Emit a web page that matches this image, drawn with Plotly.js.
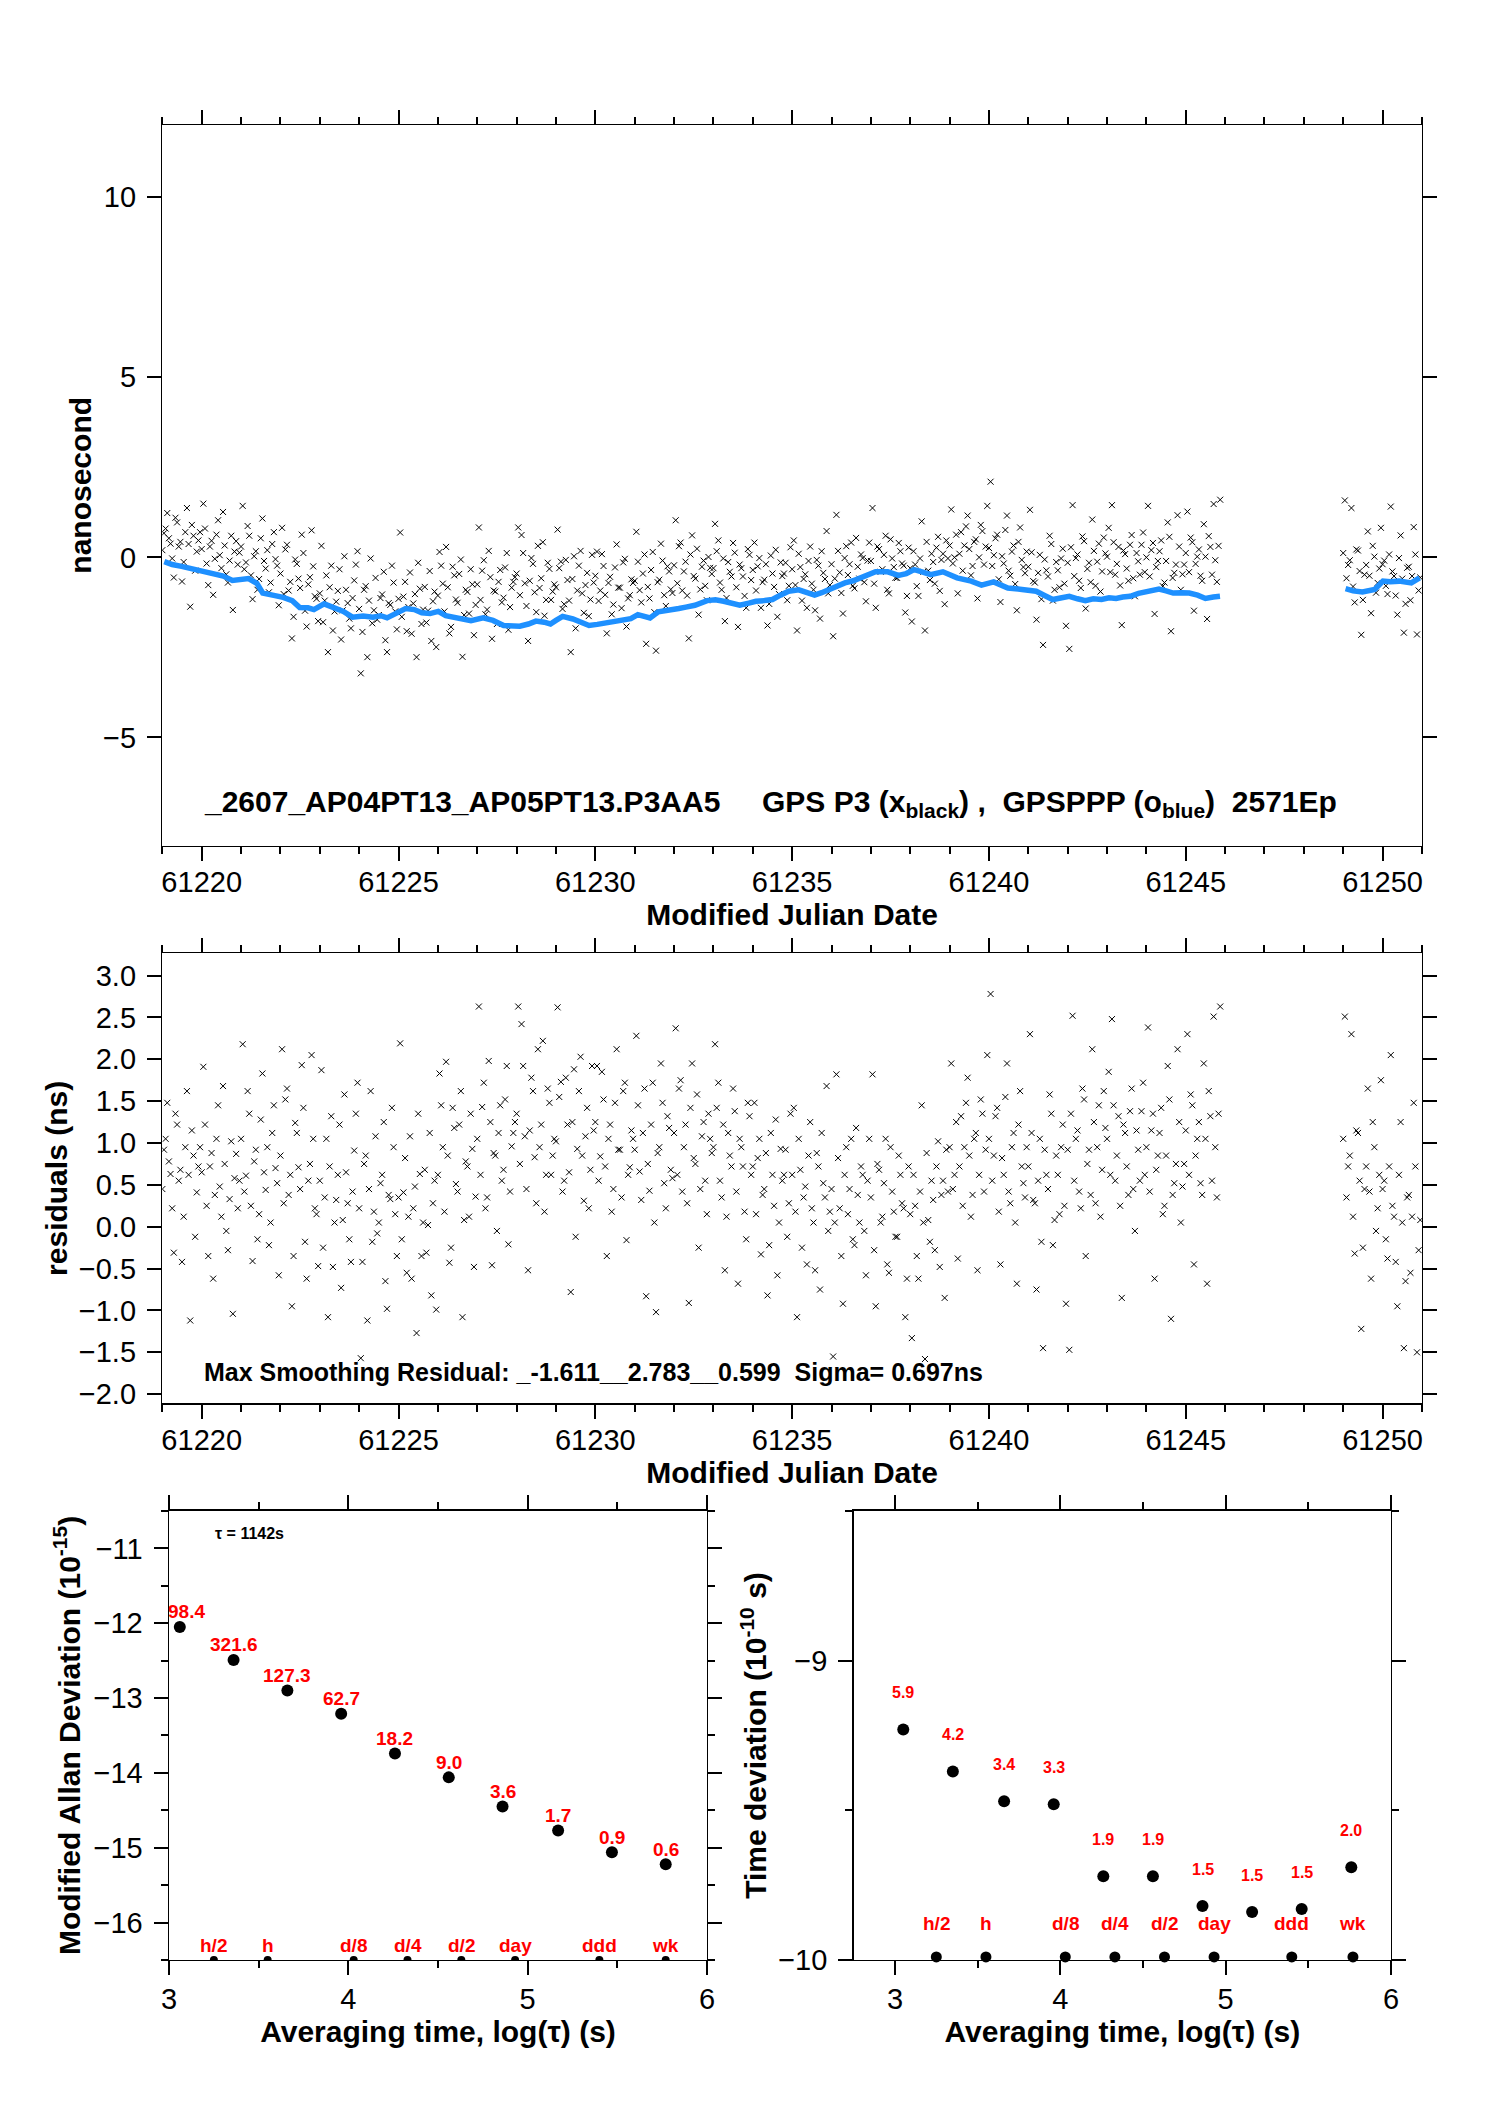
<!DOCTYPE html>
<html>
<head>
<meta charset="utf-8">
<script src="https://cdn.plot.ly/plotly-3.0.1.min.js"></script>
<style>
  body { margin: 0; background: #fff; }
  #chart { width: 1488px; height: 2105px; }
</style>
</head>
<body>
<div id="chart"></div>
<script>
// Epoch times are hours after MJD 61219.0; odd and even hours are kept in two sets
const mjdStart = 61219;
const epochHourOdd = [
  1,3,5,7,9,11,13,15,17,19,21,23,
  25,27,29,31,33,35,37,39,41,43,45,47,
  49,51,53,55,57,59,61,63,65,67,69,71,
  73,75,77,79,81,83,85,87,89,91,93,95,
  97,99,101,103,105,107,109,111,113,115,117,119,
  121,123,125,127,129,131,133,135,137,139,141,143,
  145,147,149,151,153,155,157,159,161,163,165,167,
  169,171,173,175,177,179,181,183,185,187,189,191,
  193,195,197,199,201,203,205,207,209,211,213,215,
  217,219,221,223,225,227,229,231,233,235,237,239,
  241,243,245,247,249,251,253,255,257,259,261,263,
  265,267,269,271,273,275,277,279,281,283,285,287,
  289,291,293,295,297,299,301,303,305,307,309,311,
  313,315,317,319,321,323,325,327,329,331,333,335,
  337,339,341,343,345,347,349,351,353,355,357,359,
  361,363,365,367,369,371,373,375,377,379,381,383,
  385,387,389,391,393,395,397,399,401,403,405,407,
  409,411,413,415,417,419,421,423,425,427,429,431,
  433,435,437,439,441,443,445,447,449,451,453,455,
  457,459,461,463,465,467,469,471,473,475,477,479,
  481,483,485,487,489,491,493,495,497,499,501,503,
  505,507,509,511,513,515,517,519,521,523,525,527,
  529,531,533,535,537,539,541,543,545,547,549,551,
  553,555,557,559,561,563,565,567,569,571,573,575,
  577,579,581,583,585,587,589,591,593,595,597,599,
  601,603,605,607,609,611,613,615,617,619,621,623,
  625,627,629,631,633,635,637,639,641,643,645,
  721,723,725,727,729,731,733,735,737,739,741,743,
  745,747,749,751,753,755,757,759,761,763,765,767
];
const epochHourEven = [
  0,2,4,6,8,10,12,14,16,18,20,22,
  24,26,28,30,32,34,36,38,40,42,44,46,
  48,50,52,54,56,58,60,62,64,66,68,70,
  72,74,76,78,80,82,84,86,88,90,92,94,
  96,98,100,102,104,106,108,110,112,114,116,118,
  120,122,124,126,128,130,132,134,136,138,140,142,
  144,146,148,150,152,154,156,158,160,162,164,166,
  168,170,172,174,176,178,180,182,184,186,188,190,
  192,194,196,198,200,202,204,206,208,210,212,214,
  216,218,220,222,224,226,228,230,232,234,236,238,
  240,242,244,246,248,250,252,254,256,258,260,262,
  264,266,268,270,272,274,276,278,280,282,284,286,
  288,290,292,294,296,298,300,302,304,306,308,310,
  312,314,316,318,320,322,324,326,328,330,332,334,
  336,338,340,342,344,346,348,350,352,354,356,358,
  360,362,364,366,368,370,372,374,376,378,380,382,
  384,386,388,390,392,394,396,398,400,402,404,406,
  408,410,412,414,416,418,420,422,424,426,428,430,
  432,434,436,438,440,442,444,446,448,450,452,454,
  456,458,460,462,464,466,468,470,472,474,476,478,
  480,482,484,486,488,490,492,494,496,498,500,502,
  504,506,508,510,512,514,516,518,520,522,524,526,
  528,530,532,534,536,538,540,542,544,546,548,550,
  552,554,556,558,560,562,564,566,568,570,572,574,
  576,578,580,582,584,586,588,590,592,594,596,598,
  600,602,604,606,608,610,612,614,616,618,620,622,
  624,626,628,630,632,634,636,638,640,642,644,
  720,722,724,726,728,730,732,734,736,738,740,742,
  744,746,748,750,752,754,756,758,760,762,764,766
];

// GPS P3 clock offsets (ns), black crosses
const p3NsOdd = [
  0.67,1.23,0.38,-0.56,0.97,0.43,-0.13,1.37,-1.37,0.60,0.16,0.70,
  1.49,-0.17,0.30,-1.04,0.63,0.06,1.26,-0.47,-0.09,-1.46,0.45,0.13,
  1.43,-0.14,0.60,-1.16,0.17,-0.60,1.08,-0.31,-0.97,0.37,-0.05,-1.33,
  0.82,0.22,-0.92,-2.25,-0.06,-0.59,0.63,-1.48,-0.75,0.75,-1.08,-1.77,
  0.32,-1.20,-2.63,-0.23,-1.50,-0.93,-2.28,0.03,-1.27,-1.97,-0.64,0.17,
  -3.22,-0.90,-2.77,-0.03,-1.47,-1.73,-1.13,-0.40,-2.63,-1.32,-0.70,-2.00,
  0.69,-1.09,-2.05,-0.42,-1.28,-2.77,-0.87,-1.45,-1.81,-0.38,-1.22,-2.49,
  0.15,-0.73,0.29,-2.11,-0.26,-1.17,-0.46,-2.76,-0.90,-1.56,-0.75,-1.32,
  0.83,-0.37,-1.58,0.18,-2.26,-0.95,-0.68,-1.25,-0.28,-2.01,-0.84,-0.55,
  0.83,0.62,-0.72,-2.32,-0.02,-0.97,0.32,-0.58,-1.62,-0.15,-1.18,-0.75,
  0.77,-0.12,-1.30,-0.63,-2.63,0.03,-0.92,0.18,-1.54,-0.43,-1.17,-0.70,
  0.16,-0.92,-0.24,-2.11,-0.54,-1.31,0.36,-0.84,-0.14,-1.92,-1.05,-0.71,
  0.71,-0.91,-0.45,-2.40,-1.14,0.15,-2.59,-0.62,-0.09,-1.35,-0.39,-0.99,
  1.03,0.31,-0.92,-0.12,-2.25,0.61,-0.59,-1.59,-0.26,-0.79,0.01,-0.46,
  0.93,0.47,-0.90,-1.77,-0.13,-0.53,0.13,-1.93,-0.30,-1.07,0.23,-0.63,
  0.41,-0.25,-1.40,-0.62,-1.89,0.05,-0.82,-1.65,-0.14,-0.45,-1.19,0.28,
  0.47,-2.03,-0.27,-0.60,-1.40,0.30,-0.90,-0.07,-1.70,-0.43,0.73,-0.77,
  -2.19,1.18,-0.42,-1.56,0.31,-0.19,-0.79,0.54,-0.59,-0.02,-1.22,0.41,
  1.37,-1.40,0.23,-0.33,0.60,-1.00,-0.03,-0.57,0.40,-0.17,-1.53,0.27,
  -1.78,-0.20,-1.07,1.00,-2.03,-0.37,0.10,-0.73,0.57,-0.07,-1.30,-0.03,
  1.33,0.00,-1.00,0.70,0.33,1.16,-0.50,0.43,-1.14,0.90,-0.20,1.43,
  2.10,0.06,0.63,-1.24,-0.17,1.16,-0.51,0.33,-1.47,0.83,-0.27,0.16,
  1.32,-0.66,-1.73,0.07,-2.43,-0.36,0.60,-1.20,-0.13,-0.83,0.24,-1.90,
  -2.54,1.45,-0.02,-0.65,0.58,-1.42,-0.15,1.05,-0.79,0.38,-0.39,0.11,
  0.82,1.45,-0.48,0.29,-1.88,0.09,-0.65,0.62,-1.08,-0.11,0.35,-0.41,
  1.43,0.20,-1.57,-0.10,0.47,-0.70,0.97,-2.05,-0.43,1.17,-0.90,-0.20,
  1.27,0.55,-1.48,0.02,-0.51,0.92,-1.71,0.29,1.48,-0.68,1.60,
  1.58,-0.21,1.37,-1.25,0.19,-2.15,-0.48,0.72,-1.55,0.02,-0.71,0.82,
  -0.09,-1.02,1.41,-0.52,-1.59,0.61,-2.09,-0.29,-1.19,0.84,-2.14,-0.56
];
const p3NsEven = [
  0.20,0.80,0.53,-0.03,1.10,0.30,-0.67,0.70,0.37,0.90,-0.37,0.47,
  0.23,0.80,-0.77,0.46,-0.04,1.03,-0.30,0.33,-0.70,0.60,0.16,-0.20,
  0.30,-0.33,0.87,-0.50,0.03,-0.90,0.53,-0.10,0.20,-0.70,0.70,-0.23,
  -0.45,-1.02,0.35,-0.68,-1.65,-0.18,-0.85,0.12,-1.92,-0.55,-0.25,-1.15,
  -1.00,-1.80,-0.50,-0.83,-2.03,-1.23,-0.33,-1.47,-0.90,-1.70,-1.13,-0.20,
  -1.43,-2.07,-0.80,-1.20,-1.83,-0.57,-1.60,-1.03,-2.30,-1.27,-0.23,-1.50,
  -1.15,-1.65,-0.68,-1.38,-2.12,-1.02,-0.15,-1.85,-0.82,-1.48,-2.32,-0.95,
  -1.06,-0.23,-1.50,-0.83,-1.93,-0.50,-1.26,-0.06,-1.60,-0.96,-0.33,-2.16,
  -0.75,-1.18,-0.08,-1.45,-0.55,-0.92,-1.85,-0.35,-1.12,0.12,-1.38,-0.68,
  -0.45,-1.05,0.12,-1.35,-0.65,-0.18,-1.52,-0.85,0.42,-1.18,-0.32,-0.95,
  -0.83,-0.30,-1.43,-0.07,-1.20,-0.60,-1.97,-0.23,-1.00,-0.77,-1.63,0.07,
  -0.51,-1.21,0.09,-1.04,-0.71,-1.58,-0.28,-0.84,-1.41,-0.04,-1.14,-0.61,
  -0.65,-0.12,-1.25,0.08,-0.82,-0.35,-1.52,-0.69,0.38,-1.05,-0.25,-0.89,
  -0.22,-0.72,0.41,-0.39,-1.06,0.08,-0.52,0.24,-0.89,-0.09,-1.19,-0.29,
  -0.30,0.17,-0.70,-0.03,-1.13,-0.40,0.40,-0.83,-0.20,-0.53,-1.40,0.07,
  -0.35,-0.92,-0.02,-0.69,-0.19,-1.29,-0.45,0.21,-1.02,-0.52,-0.15,-0.79,
  -0.33,-0.77,0.10,-1.20,-0.47,-0.10,-0.73,-1.47,-0.23,0.17,-0.60,-1.00,
  -0.19,-0.59,0.18,-0.99,-0.02,-0.49,0.41,-0.86,-0.26,0.08,-0.69,-0.09,
  -0.10,-0.73,0.30,-0.40,0.07,-0.90,0.50,-0.27,-0.57,0.17,-0.23,-1.07,
  -0.30,0.17,-0.80,-0.03,-0.40,0.43,-0.63,-0.13,0.27,-0.93,0.10,0.47,
  0.33,-0.17,0.63,0.10,-0.37,0.86,0.23,-0.24,0.50,0.00,0.73,0.30,
  0.26,-0.24,0.53,-0.61,0.03,0.76,-0.37,0.16,-0.74,0.43,-0.07,-0.44,
  -0.26,0.14,-0.70,-0.43,-1.16,-0.06,-0.53,0.37,-0.90,-0.36,-0.03,-0.73,
  -0.15,0.28,-0.52,0.08,-0.85,0.45,-0.32,-0.69,0.18,-0.12,-0.95,0.55,
  0.02,-0.41,0.42,-0.18,-0.78,0.19,-0.31,0.35,-0.58,0.12,-0.48,0.69,
  0.00,-0.53,0.40,-0.27,0.17,-0.80,-0.10,0.57,-0.57,-0.20,0.30,-0.47,
  0.12,-0.41,0.42,-0.18,0.22,-0.65,0.02,0.59,-0.48,-0.08,0.32,
  0.12,-0.58,-0.08,-0.81,0.22,-0.38,-1.18,-0.21,-0.51,0.32,-0.98,-0.31,
  -0.19,-0.79,0.08,-0.39,-1.06,-0.02,-0.59,-1.29,-0.26,-0.52,0.08,-0.92
];

// Residuals (ns) after smoothing, middle panel
const residNsOdd = [
  0.92,1.48,0.63,-0.31,1.22,0.68,0.12,1.62,-1.12,0.85,0.41,0.95,
  1.91,0.25,0.72,-0.62,1.05,0.48,1.68,-0.05,0.33,-1.04,0.87,0.55,
  2.18,0.61,1.35,-0.41,0.92,0.15,1.83,0.44,-0.22,1.12,0.70,-0.58,
  2.12,1.52,0.38,-0.95,1.24,0.71,1.93,-0.18,0.55,2.05,0.22,-0.47,
  1.87,0.35,-1.08,1.32,0.05,0.62,-0.73,1.58,0.28,-0.42,0.91,1.72,
  -1.57,0.75,-1.12,1.62,0.18,-0.08,0.52,1.25,-0.98,0.33,0.95,-0.35,
  2.19,0.41,-0.55,1.08,0.22,-1.27,0.63,0.05,-0.31,1.12,0.28,-0.99,
  1.83,0.95,1.97,-0.43,1.42,0.51,1.22,-1.08,0.78,0.12,0.93,0.36,
  2.63,1.43,0.22,1.98,-0.46,0.85,1.12,0.55,1.52,-0.21,0.96,1.25,
  2.63,2.42,1.08,-0.52,1.78,0.83,2.12,1.22,0.18,1.65,0.62,1.05,
  2.62,1.73,0.55,1.22,-0.78,1.88,0.93,2.03,0.31,1.42,0.68,1.15,
  1.92,0.84,1.52,-0.35,1.22,0.45,2.12,0.92,1.62,-0.16,0.71,1.05,
  2.28,0.66,1.12,-0.83,0.43,1.72,-1.02,0.95,1.48,0.22,1.18,0.58,
  2.37,1.65,0.42,1.22,-0.91,1.95,0.75,-0.25,1.08,0.55,1.35,0.88,
  2.18,1.72,0.35,-0.52,1.12,0.72,1.38,-0.68,0.95,0.18,1.48,0.62,
  1.48,0.82,-0.33,0.45,-0.82,1.12,0.25,-0.58,0.93,0.62,-0.12,1.35,
  1.42,-1.08,0.68,0.35,-0.45,1.25,0.05,0.88,-0.75,0.52,1.68,0.18,
  -1.55,1.82,0.22,-0.92,0.95,0.45,-0.15,1.18,0.05,0.62,-0.58,1.05,
  1.82,-0.95,0.68,0.12,1.05,-0.55,0.42,-0.12,0.85,0.28,-1.08,0.72,
  -1.33,0.25,-0.62,1.45,-1.58,0.08,0.55,-0.28,1.02,0.38,-0.85,0.42,
  1.95,0.62,-0.38,1.32,0.95,1.78,0.12,1.05,-0.52,1.52,0.42,2.05,
  2.78,0.85,1.42,-0.45,0.62,1.95,0.28,1.12,-0.68,1.62,0.52,0.95,
  2.30,0.32,-0.75,1.05,-1.45,0.62,1.58,-0.22,0.85,0.15,1.22,-0.92,
  -1.47,2.52,1.05,0.42,1.65,-0.35,0.92,2.12,0.28,1.45,0.68,1.18,
  1.85,2.48,0.55,1.32,-0.85,1.12,0.38,1.65,-0.05,0.92,1.38,0.62,
  2.38,1.15,-0.62,0.85,1.42,0.25,1.92,-1.10,0.52,2.12,0.05,0.75,
  2.30,1.58,-0.45,1.05,0.52,1.95,-0.68,1.32,2.51,0.35,2.63,
  2.51,0.72,2.30,-0.32,1.12,-1.22,0.45,1.65,-0.62,0.95,0.22,1.75,
  0.55,-0.38,2.05,0.12,-0.95,1.25,-1.45,0.35,-0.55,1.48,-1.50,0.08
];
const residNsEven = [
  0.45,1.05,0.78,0.22,1.35,0.55,-0.42,0.95,0.62,1.15,-0.12,0.72,
  0.65,1.22,-0.35,0.88,0.38,1.45,0.12,0.75,-0.28,1.02,0.58,0.22,
  1.05,0.42,1.62,0.25,0.78,-0.15,1.28,0.65,0.95,0.05,1.45,0.52,
  0.85,0.28,1.65,0.62,-0.35,1.12,0.45,1.42,-0.62,0.75,1.05,0.15,
  0.55,-0.25,1.05,0.72,-0.48,0.32,1.22,0.08,0.65,-0.15,0.42,1.35,
  0.22,-0.42,0.85,0.45,-0.18,1.08,0.05,0.62,-0.65,0.38,1.42,0.15,
  0.35,-0.15,0.82,0.12,-0.62,0.48,1.35,-0.35,0.68,0.02,-0.82,0.55,
  0.62,1.45,0.18,0.85,-0.25,1.18,0.42,1.62,0.08,0.72,1.35,-0.48,
  1.05,0.62,1.72,0.35,1.25,0.88,-0.05,1.45,0.68,1.92,0.42,1.12,
  1.35,0.75,1.92,0.45,1.15,1.62,0.28,0.95,2.22,0.62,1.48,0.85,
  1.02,1.55,0.42,1.78,0.65,1.25,-0.12,1.62,0.85,1.08,0.22,1.92,
  1.25,0.55,1.85,0.72,1.05,0.18,1.48,0.92,0.35,1.72,0.62,1.15,
  0.92,1.45,0.32,1.65,0.75,1.22,0.05,0.88,1.95,0.52,1.32,0.68,
  1.12,0.62,1.75,0.95,0.28,1.42,0.82,1.58,0.45,1.25,0.15,1.05,
  0.95,1.42,0.55,1.22,0.12,0.85,1.65,0.42,1.05,0.72,-0.15,1.32,
  0.72,0.15,1.05,0.38,0.88,-0.22,0.62,1.28,0.05,0.55,0.92,0.28,
  0.62,0.18,1.05,-0.25,0.48,0.85,0.22,-0.52,0.72,1.12,0.35,-0.05,
  0.45,0.05,0.82,-0.35,0.62,0.15,1.05,-0.22,0.38,0.72,-0.05,0.55,
  0.35,-0.28,0.75,0.05,0.52,-0.45,0.95,0.18,-0.12,0.62,0.22,-0.62,
  0.15,0.62,-0.35,0.42,0.05,0.88,-0.18,0.32,0.72,-0.48,0.55,0.92,
  0.95,0.45,1.25,0.72,0.25,1.48,0.85,0.38,1.12,0.62,1.35,0.92,
  1.05,0.55,1.32,0.18,0.82,1.55,0.42,0.95,0.05,1.22,0.72,0.35,
  0.72,1.12,0.28,0.55,-0.18,0.92,0.45,1.35,0.08,0.62,0.95,0.25,
  0.92,1.35,0.55,1.15,0.22,1.52,0.75,0.38,1.25,0.95,0.12,1.62,
  1.05,0.62,1.45,0.85,0.25,1.22,0.72,1.38,0.45,1.15,0.55,1.72,
  0.95,0.42,1.35,0.68,1.12,0.15,0.85,1.52,0.38,0.75,1.25,0.48,
  1.15,0.62,1.45,0.85,1.25,0.38,1.05,1.62,0.55,0.95,1.35,
  1.05,0.35,0.85,0.12,1.15,0.55,-0.25,0.72,0.42,1.25,-0.05,0.62,
  0.45,-0.15,0.72,0.25,-0.42,0.62,0.05,-0.65,0.38,0.12,0.72,-0.28
];

// GPSPPP solution (ns), blue curve; null marks the data gap
const pppMjd = [
  61219.05,61219.25,61219.49,61219.7,61219.9,61220.1,61220.31,61220.55,61220.78,61221.0,
  61221.19,61221.4,61221.55,61221.8,61222.07,61222.3,61222.49,61222.7,61222.85,61223.11,
  61223.25,61223.42,61223.6,61223.83,61224.1,61224.35,61224.55,61224.71,61224.95,61225.18,
  61225.4,61225.59,61225.8,61226.01,61226.2,61226.42,61226.6,61226.84,61227.15,61227.4,
  61227.67,61227.9,61228.08,61228.3,61228.49,61228.7,61228.86,61229.0,61229.17,61229.43,
  61229.65,61229.84,61230.05,61230.25,61230.45,61230.67,61230.9,61231.08,61231.39,61231.6,
  61231.85,61232.12,61232.3,61232.53,61232.84,61233.05,61233.26,61233.45,61233.67,61233.9,
  61234.08,61234.3,61234.5,61234.7,61234.91,61235.17,61235.4,61235.57,61235.75,61235.93,
  61236.15,61236.34,61236.55,61236.76,61236.95,61237.12,61237.43,61237.7,61237.9,61238.1,
  61238.3,61238.52,61238.83,61239.0,61239.19,61239.55,61239.81,61240.12,61240.3,61240.48,
  61240.84,61241.0,61241.2,61241.4,61241.62,61241.85,61242.04,61242.25,61242.45,61242.65,
  61242.86,61243.05,61243.23,61243.4,61243.59,61243.8,61244.0,61244.32,61244.5,61244.68,
  61244.9,61245.09,61245.3,61245.5,61245.7,61245.87,61247.5,
  61249.06,61249.25,61249.49,61249.65,61249.8,61250.01,61250.2,61250.42,61250.6,61250.73,61250.94
];
const pppNs = [
  -0.12,-0.20,-0.25,-0.30,-0.38,-0.40,-0.48,-0.52,-0.64,-0.62,
  -0.59,-0.72,-0.99,-1.05,-1.11,-1.20,-1.39,-1.40,-1.45,-1.29,
  -1.35,-1.39,-1.50,-1.66,-1.63,-1.66,-1.62,-1.68,-1.55,-1.42,
  -1.45,-1.54,-1.56,-1.50,-1.62,-1.66,-1.70,-1.76,-1.68,-1.75,
  -1.89,-1.90,-1.91,-1.85,-1.77,-1.80,-1.85,-1.75,-1.64,-1.71,
  -1.80,-1.89,-1.86,-1.82,-1.78,-1.76,-1.70,-1.59,-1.68,-1.51,
  -1.48,-1.42,-1.38,-1.33,-1.20,-1.18,-1.22,-1.28,-1.33,-1.27,
  -1.22,-1.20,-1.17,-1.05,-0.94,-0.90,-0.98,-1.05,-0.98,-0.89,
  -0.80,-0.71,-0.65,-0.57,-0.50,-0.40,-0.40,-0.50,-0.45,-0.34,
  -0.40,-0.48,-0.40,-0.50,-0.57,-0.66,-0.77,-0.68,-0.78,-0.85,
  -0.89,-0.90,-0.94,-1.05,-1.17,-1.12,-1.08,-1.15,-1.20,-1.15,
  -1.17,-1.12,-1.14,-1.10,-1.08,-1.00,-0.94,-0.88,-0.93,-0.99,
  -0.98,-0.99,-1.05,-1.14,-1.10,-1.08,null,
  -0.87,-0.93,-0.96,-0.94,-0.89,-0.66,-0.68,-0.66,-0.68,-0.71,-0.57
];

// Modified Allan deviation, log10 values, with the labels printed above the points
const adevLogTau = [3.06, 3.36, 3.66, 3.96, 4.26, 4.56, 4.86, 5.17, 5.47, 5.77];
const adevLog = [-12.05, -12.49, -12.90, -13.21, -13.74, -14.06, -14.45, -14.77, -15.06, -15.22];
const adevText = ['98.4', '321.6', '127.3', '62.7', '18.2', '9.0', '3.6', '1.7', '0.9', '0.6'];

// Time deviation, log10 values
const tdevLogTau = [3.05, 3.35, 3.66, 3.96, 4.26, 4.56, 4.86, 5.16, 5.46, 5.76];
const tdevLog = [-9.23, -9.37, -9.47, -9.48, -9.72, -9.72, -9.82, -9.84, -9.83, -9.69];
const tdevText = ['5.9', '4.2', '3.4', '3.3', '1.9', '1.9', '1.5', '1.5', '1.5', '2.0'];

// Reference averaging times marked along the bottom of both stability plots
const unitLogTau = [3.25, 3.55, 4.03, 4.33, 4.63, 4.93, 5.40, 5.77];
const unitText = ['h/2', 'h', 'd/8', 'd/4', 'd/2', 'day', 'ddd', 'wk'];
const adevFloor = -16.5;
const tdevFloor = -9.99;

const FONT = 'Liberation Sans, Arial, sans-serif';
const RED = '#ff0000';
const NB = '\u00a0';

const epochMjd = epochHourOdd.concat(epochHourEven).map(h => mjdStart + h / 24);
const p3Ns = p3NsOdd.concat(p3NsEven);
const residNs = residNsOdd.concat(residNsEven);

const crossMarker = { symbol: 'x-thin-open', size: 6, color: 'black', line: { color: 'black', width: 1 } };
const dotMarker = { symbol: 'circle', size: 12, color: 'black' };

const traces = [
  { x: epochMjd, y: p3Ns, xaxis: 'x', yaxis: 'y', type: 'scatter', mode: 'markers', marker: crossMarker },
  { x: pppMjd, y: pppNs, xaxis: 'x', yaxis: 'y', type: 'scatter', mode: 'lines',
    line: { color: '#1e90ff', width: 5.5 }, connectgaps: false },
  { x: epochMjd, y: residNs, xaxis: 'x2', yaxis: 'y2', type: 'scatter', mode: 'markers', marker: crossMarker },
  { x: adevLogTau, y: adevLog, xaxis: 'x3', yaxis: 'y3', type: 'scatter', mode: 'markers', marker: dotMarker },
  { x: unitLogTau, y: unitLogTau.map(() => adevFloor), xaxis: 'x3', yaxis: 'y3', type: 'scatter',
    mode: 'markers', marker: { symbol: 'circle', size: 8, color: 'black' } },
  { x: tdevLogTau, y: tdevLog, xaxis: 'x4', yaxis: 'y4', type: 'scatter', mode: 'markers', marker: dotMarker },
  { x: unitLogTau, y: unitLogTau.map(() => tdevFloor), xaxis: 'x4', yaxis: 'y4', type: 'scatter',
    mode: 'markers', marker: { symbol: 'circle', size: 11, color: 'black' }, cliponaxis: false }
];

function frame(extra) {
  return Object.assign({
    showline: true, linecolor: 'black', linewidth: 1.5, mirror: 'ticks',
    ticks: 'outside', ticklen: 14, tickwidth: 2, tickcolor: 'black',
    showgrid: false, zeroline: false, fixedrange: true,
    tickfont: { family: FONT, size: 29, color: 'black' }
  }, extra);
}
function axTitle(text, standoff) {
  return { text: text, standoff: standoff, font: { family: FONT, size: 30, color: 'black', weight: 'bold' } };
}
const minorX = { dtick: 1, ticklen: 7, tickwidth: 2, ticks: 'outside', tickcolor: 'black' };
const minorHalf = { dtick: 0.5, ticklen: 7, tickwidth: 2, ticks: 'outside', tickcolor: 'black' };

const xTop = [0.1091, 0.9556];

const annotations = [
  { xref: 'paper', yref: 'paper', x: 0.1355, y: 0.6185, xanchor: 'left', yanchor: 'middle', showarrow: false,
    text: '_2607_AP04PT13_AP05PT13.P3AA5' + NB.repeat(5) + 'GPS P3 (x<sub>black</sub>)' + NB + ',' + NB + NB +
      'GPSPPP (o<sub>blue</sub>)' + NB + NB + '2571Ep',
    font: { family: FONT, size: 30, color: 'black', weight: 'bold' } },
  { xref: 'paper', yref: 'paper', x: 0.1358, y: 0.348, xanchor: 'left', yanchor: 'middle', showarrow: false,
    text: 'Max Smoothing Residual: _-1.611__2.783__0.599' + NB + NB + 'Sigma= 0.697ns',
    font: { family: FONT, size: 25, color: 'black', weight: 'bold' } },
  { xref: 'paper', yref: 'paper', x: 0.1431, y: 0.2717, xanchor: 'left', yanchor: 'middle', showarrow: false,
    text: '\u03c4 = 1142s', font: { family: FONT, size: 16, color: 'black', weight: 'bold' } }
];

adevText.forEach((t, i) => {
  // the first label sits against the frame in the original, so keep it inside
  annotations.push({ xref: 'x3', yref: 'y3', x: adevLogTau[i], y: adevLog[i], showarrow: false,
    text: t, yshift: 15, xshift: i === 0 ? 7 : 0, font: { family: FONT, size: 19, color: RED, weight: 'bold' } });
});
tdevText.forEach((t, i) => {
  annotations.push({ xref: 'x4', yref: 'y4', x: tdevLogTau[i], y: tdevLog[i], showarrow: false,
    text: t, yshift: 37, font: { family: FONT, size: 16, color: RED, weight: 'bold' } });
});
unitText.forEach((t, i) => {
  annotations.push({ xref: 'x3', yref: 'y3', x: unitLogTau[i], y: adevFloor, showarrow: false,
    text: t, yshift: 14, font: { family: FONT, size: 19, color: RED, weight: 'bold' } });
  annotations.push({ xref: 'x4', yref: 'y4', x: unitLogTau[i], y: -10, showarrow: false,
    text: t, yshift: 36, font: { family: FONT, size: 19, color: RED, weight: 'bold' } });
});

const layout = {
  width: 1488, height: 2105,
  margin: { l: 0, r: 0, t: 0, b: 0 },
  paper_bgcolor: 'white', plot_bgcolor: 'white',
  showlegend: false,
  xaxis: frame({ domain: xTop, anchor: 'y', range: [61219, 61251], tick0: 61220, dtick: 5,
    tickformat: 'd', minor: minorX, ticklabelstandoff: -4,
    title: axTitle('Modified Julian Date', 0) }),
  yaxis: frame({ domain: [0.5983, 0.9406], anchor: 'x', range: [-8, 12], tick0: 0, dtick: 5,
    ticklabelstandoff: 5, title: axTitle('nanosecond', 2) }),
  xaxis2: frame({ domain: xTop, anchor: 'y2', range: [61219, 61251], tick0: 61220, dtick: 5,
    tickformat: 'd', minor: minorX, ticklabelstandoff: -4,
    title: axTitle('Modified Julian Date', 0) }),
  yaxis2: frame({ domain: [0.3333, 0.5471], anchor: 'x2', range: [-2.11, 3.265], tick0: 0, dtick: 0.5,
    tickformat: '.1f', ticklabelstandoff: 5, title: axTitle('residuals (ns)', 2) }),
  xaxis3: frame({ domain: [0.1136, 0.4751], anchor: 'y3', range: [3, 6], tick0: 3, dtick: 1,
    minor: minorHalf, ticklabelstandoff: -1, title: axTitle('Averaging time, log(\u03c4) (s)', 1) }),
  yaxis3: frame({ domain: [0.0689, 0.2822], anchor: 'x3', range: [-16.5, -10.5], tick0: -16, dtick: 1,
    minor: minorHalf, ticklabelstandoff: 5, title: axTitle('Modified Allan Deviation (10<sup>-15</sup>)', 4) }),
  xaxis4: frame({ domain: [0.5737, 0.9348], anchor: 'y4', range: [2.75, 6], tick0: 3, dtick: 1,
    minor: minorHalf, ticklabelstandoff: -1, title: axTitle('Averaging time, log(\u03c4) (s)', 1) }),
  yaxis4: frame({ domain: [0.0689, 0.2822], anchor: 'x4', range: [-10, -8.5], tick0: -10, dtick: 1,
    minor: minorHalf, ticklabelstandoff: 5, title: axTitle('Time deviation (10<sup>-10</sup> s)', 2) }),
  annotations: annotations
};

Plotly.newPlot('chart', traces, layout, { displayModeBar: false, staticPlot: true });
</script>
</body>
</html>
